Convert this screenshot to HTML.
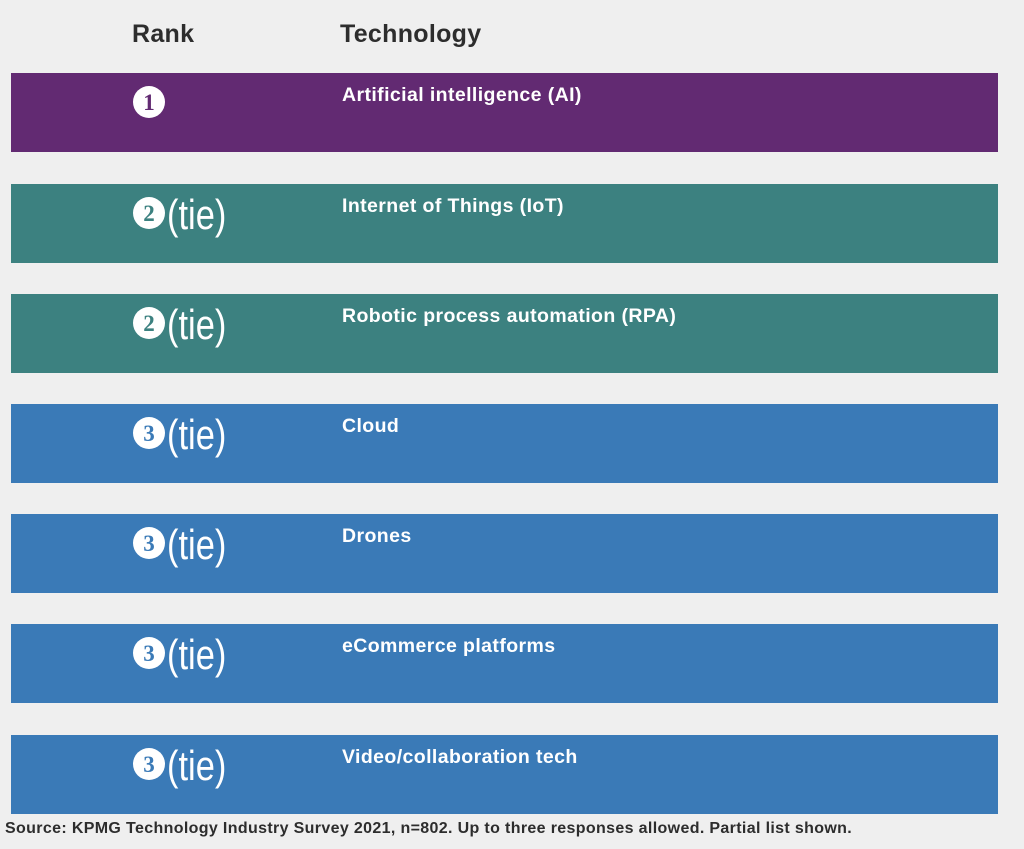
<!DOCTYPE html>
<html><head><style>
body{margin:0;width:1024px;height:849px;background:#efefef;font-family:"Liberation Sans","DejaVu Sans",sans-serif;position:relative;overflow:hidden}
.h{position:absolute;top:20px;font-size:25px;color:#2d2d2d;font-weight:bold;letter-spacing:0.3px}
.bar{position:absolute;left:11px;width:987px;height:79px}
.c{position:absolute;left:122px;top:13px;width:32px;height:32px;border-radius:50%;background:#fff;font-family:"Liberation Serif",serif;font-weight:bold;font-size:23px;line-height:33px;text-align:center}
.tie{position:absolute;left:156px;top:9px;color:#fff;font-family:"Liberation Sans Narrow","Liberation Sans",sans-serif;font-size:42px;line-height:44px;transform:scaleX(0.82);transform-origin:left}
.t{position:absolute;left:331px;top:11px;color:#fff;font-weight:bold;font-size:19.5px;letter-spacing:0.4px}
.p{background:#622a72}.g{background:#3c8180}.b{background:#3a7ab7}
.src{position:absolute;left:5px;top:820px;font-size:16px;color:#2d2d2d;font-weight:bold;letter-spacing:0.35px}
</style></head><body>
<div class="h" style="left:132px">Rank</div>
<div class="h" style="left:340px">Technology</div>
<div class="bar p" style="top:73px"><div class="c" style="color:#622a72">1</div><div class="t">Artificial intelligence (AI)</div></div>
<div class="bar g" style="top:184px"><div class="c" style="color:#3c8180">2</div><div class="tie">(tie)</div><div class="t">Internet of Things (IoT)</div></div>
<div class="bar g" style="top:294px"><div class="c" style="color:#3c8180">2</div><div class="tie">(tie)</div><div class="t">Robotic process automation (RPA)</div></div>
<div class="bar b" style="top:404px"><div class="c" style="color:#3a7ab7">3</div><div class="tie">(tie)</div><div class="t">Cloud</div></div>
<div class="bar b" style="top:514px"><div class="c" style="color:#3a7ab7">3</div><div class="tie">(tie)</div><div class="t">Drones</div></div>
<div class="bar b" style="top:624px"><div class="c" style="color:#3a7ab7">3</div><div class="tie">(tie)</div><div class="t">eCommerce platforms</div></div>
<div class="bar b" style="top:735px"><div class="c" style="color:#3a7ab7">3</div><div class="tie">(tie)</div><div class="t">Video/collaboration tech</div></div>
<div class="src">Source: KPMG Technology Industry Survey 2021, n=802. Up to three responses allowed. Partial list shown.</div>
</body></html>
